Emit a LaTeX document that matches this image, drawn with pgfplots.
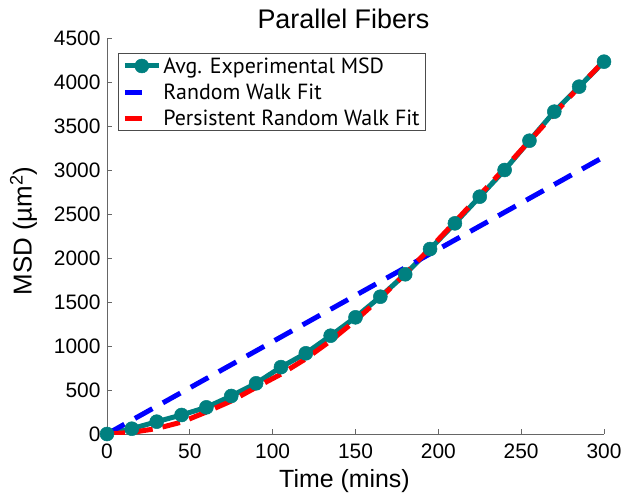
\documentclass[border=0pt]{standalone}
\usepackage{fontspec}
\setmainfont{Liberation Sans}
\newfontfamily\legfont{PT Sans}
\usepackage{pgfplots}
\pgfplotsset{compat=1.18}
\definecolor{tealc}{RGB}{0,128,128}
\pgfplotsset{
  legteal/.style={legend image code/.code={\draw[mark repeat=2,mark phase=2,##1] plot coordinates {(0bp,0bp)(17bp,0bp)(34bp,0bp)};}},
  legshort/.style={legend image code/.code={\draw[##1,solid] (0bp,0bp) -- (17bp,0bp);}},
}
\begin{document}
\begin{tikzpicture}
\useasboundingbox (-107bp,-62bp) rectangle (520bp,434bp);
\begin{axis}[
 at={(0,0)}, anchor=south west,
 scale only axis, width=497bp, height=396bp,
 xmin=0, xmax=300, ymin=0, ymax=4500,
 xtick={0,50,...,300}, ytick={0,500,...,4500},
 axis x line*=bottom, axis y line*=left,
 tick align=inside, major tick length=5bp,
 axis line style={black!60, line width=0.7bp, -},
 tick style={black!60, line width=0.7bp},
 ticklabel style={font=\fontsize{21}{25}\selectfont},
 xticklabel style={yshift=-6bp},
 yticklabel style={xshift=-3bp},
 /pgf/number format/assume math mode=true,
 /pgf/number format/1000 sep={},
 xlabel={Time (mins)}, ylabel={MSD (µm\textsuperscript{2})},
 xlabel style={font=\fontsize{25}{28}\selectfont, at={(axis description cs:0.5,0)}, anchor=base, yshift=-53bp, xshift=-11bp},
 ylabel style={font=\fontsize{26}{29}\selectfont, yshift=10bp, xshift=5bp},
 title={Parallel Fibers},
 title style={font=\fontsize{27}{30}\selectfont, xshift=-12bp},
 legend style={at={(0.022,0.962)}, anchor=north west,
   font=\legfont\fontsize{22}{26}\selectfont, draw=black!70, line width=0.8bp,
   inner xsep=4bp, inner ysep=2bp, row sep=5bp},
 legend cell align=left,
]
\addplot[tealc, line width=5bp, mark=*, mark size=7bp, mark options={fill=tealc, draw=tealc, line width=0.5bp}, legteal]
 coordinates {(0,0)(15,60)(30,140)(45,216)(60,303)(75,432)(90,576)(105,760)(120,917)(135,1117)(150,1326)(165,1560)(180,1815)(195,2102)(210,2394)(225,2697)(240,3000)(255,3333)(270,3663)(285,3947)(300,4231)};
\addlegendentry{Avg. Experimental MSD}
\addplot[blue, line width=5bp, dash pattern=on 20bp off 12bp, legshort]
 coordinates {(0,0)(300,3150)};
\addlegendentry{Random Walk Fit}
\addplot[red, line width=5bp, dash pattern=on 18bp off 10bp, legshort]
 coordinates {(0,0)(15,18)(30,62)(45,135)(60,250)(75,375)(90,530)(105,680)(120,855)(135,1060)(150,1290)(165,1545)(180,1820)(195,2110)(210,2410)(225,2715)(240,3020)(255,3330)(270,3640)(285,3945)(300,4240)};
\addlegendentry{Persistent Random Walk Fit}
\end{axis}
\end{tikzpicture}
\end{document}
